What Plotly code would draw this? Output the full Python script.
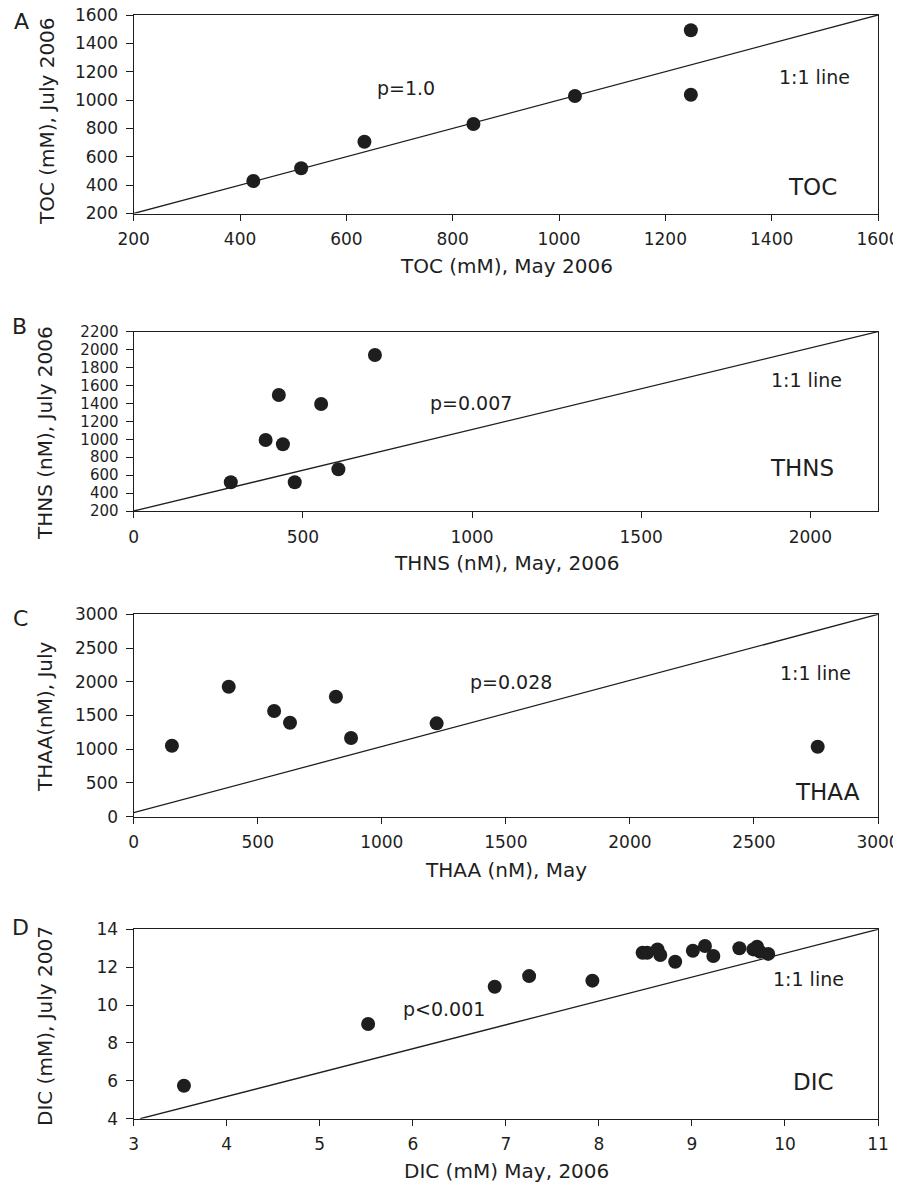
import plotly.graph_objects as go

# The page body adds an 8px margin, so the figure starts 8px in; it is sized
# to end exactly at the window edge and every reference pixel is shifted by 8px.
OFF = 8
W, H = 901 - OFF, 1186 - OFF

# ---- data ----
toc_may = [425, 515, 634, 839, 1030, 1248, 1248]
toc_jul = [429, 519, 706, 831, 1029, 1492, 1038]
thns_may = [287, 390, 429, 441, 476, 554, 605, 713]
thns_jul = [520, 992, 1494, 944, 520, 1394, 665, 1940]
thaa_may = [154, 383, 566, 630, 815, 876, 1221, 2757]
thaa_jul = [1052, 1927, 1567, 1393, 1779, 1166, 1384, 1037]
dic_may = [3.54, 5.52, 6.88, 7.25, 7.93, 8.47, 8.52, 8.63, 8.66, 8.82,
           9.01, 9.14, 9.23, 9.51, 9.66, 9.70, 9.73, 9.82]
dic_jul = [5.74, 9.00, 10.97, 11.53, 11.29, 12.76, 12.76, 12.94, 12.64, 12.29,
           12.87, 13.12, 12.59, 13.00, 12.94, 13.08, 12.82, 12.70]

# 1:1 reference lines as drawn
line_a_x = [200, 1600]
line_a_y = [200, 1600]
line_b_x = [0, 2200]
line_b_y = [200, 2200]
line_c_x = [0, 3000]
line_c_y = [60, 3000]
line_d_x = [3.07, 11]
line_d_y = [4, 14]

FONT = "DejaVu Sans"
INK = "#1e1e1e"

def xp(px):
    return (px - OFF) / W

def yp(py):
    return 1 - (py - OFF) / H

fig = go.Figure()

panels = [
    ("x", "y", toc_may, toc_jul, line_a_x, line_a_y),
    ("x2", "y2", thns_may, thns_jul, line_b_x, line_b_y),
    ("x3", "y3", thaa_may, thaa_jul, line_c_x, line_c_y),
    ("x4", "y4", dic_may, dic_jul, line_d_x, line_d_y),
]
for xa, ya, mx, my, lx, ly in panels:
    fig.add_trace(go.Scatter(x=lx, y=ly, mode="lines", xaxis=xa, yaxis=ya,
                             line=dict(color=INK, width=1.3), showlegend=False,
                             hoverinfo="skip"))
    fig.add_trace(go.Scatter(x=mx, y=my, mode="markers", xaxis=xa, yaxis=ya,
                             marker=dict(color=INK, size=14, line=dict(width=0)),
                             showlegend=False))

# plot areas in reference pixels: (left, right, top, bottom)
boxes = [
    (133.7, 878, 15, 213.5),
    (133.7, 878, 331.7, 511),
    (133.7, 878, 614.3, 816.7),
    (133.7, 878, 929.3, 1118.7),
]
xranges = [[200, 1600], [0, 2200], [0, 3000], [3, 11]]
xdticks = [200, 500, 500, 1]
yranges = [[200, 1600], [200, 2200], [0, 3000], [4, 14]]
ydticks = [200, 200, 500, 2]
ytick_sizes = [17, 15, 17, 17]

axis_common = dict(showline=True, linecolor=INK, linewidth=1.3, mirror=True,
                   ticks="outside", tickcolor=INK, tickwidth=1.3,
                   showgrid=False, zeroline=False, automargin=False,
                   ticklabeloverflow="allow")

layout = dict(width=W, height=H,
              margin=dict(l=0, r=0, t=0, b=0, pad=0, autoexpand=False),
              plot_bgcolor="white", paper_bgcolor="white", showlegend=False)

for i, (l, r, t, b) in enumerate(boxes):
    sx = "" if i == 0 else str(i + 1)
    layout["xaxis" + sx] = dict(axis_common, domain=[xp(l), xp(r)],
                                range=xranges[i], dtick=xdticks[i], tick0=0,
                                ticklen=6, ticklabelstandoff=4,
                                tickfont=dict(family=FONT, size=17, color=INK),
                                anchor="y" + sx)
    layout["yaxis" + sx] = dict(axis_common, domain=[yp(b), yp(t)],
                                range=yranges[i], dtick=ydticks[i], tick0=0,
                                ticklen=7, ticklabelstandoff=4,
                                tickfont=dict(family=FONT, size=ytick_sizes[i], color=INK),
                                anchor="x" + sx)

fig.update_layout(**layout)

def ann(text, x, y, size, angle=0):
    fig.add_annotation(text=text, x=xp(x), y=yp(y), xref="paper", yref="paper",
                       showarrow=False, textangle=angle, xanchor="center",
                       yanchor="middle",
                       font=dict(family=FONT, size=size, color=INK))

# axis titles
ann("TOC (mM), May 2006", 506, 266, 20)
ann("TOC (mM), July 2006", 47, 121, 20, -90)
ann("THNS (nM), May, 2006", 506, 563, 20)
ann("THNS (nM), July 2006", 45, 433, 20, -90)
ann("THAA (nM), May", 506, 870, 20)
ann("THAA(nM), July", 45, 717, 20, -90)
ann("DIC (mM) May, 2006", 506, 1171, 20)
ann("DIC (mM), July 2007", 45, 1026, 20, -90)

# panel letters
ann("A", 21, 21, 22)
ann("B", 19, 327, 22)
ann("C", 20, 618, 22)
ann("D", 20, 927, 22)

# in-plot labels
ann("p=1.0", 406, 88, 19)
ann("1:1 line", 814, 77, 19)
ann("TOC", 812, 187, 23)
ann("p=0.007", 471, 403, 19)
ann("1:1 line", 806, 380, 19)
ann("THNS", 802, 468, 23)
ann("p=0.028", 511, 682, 19)
ann("1:1 line", 815, 673, 19)
ann("THAA", 827, 792, 23)
ann("p<0.001", 444, 1009, 19)
ann("1:1 line", 808, 979, 19)
ann("DIC", 813, 1082, 23)

fig.write_html("out.html")
